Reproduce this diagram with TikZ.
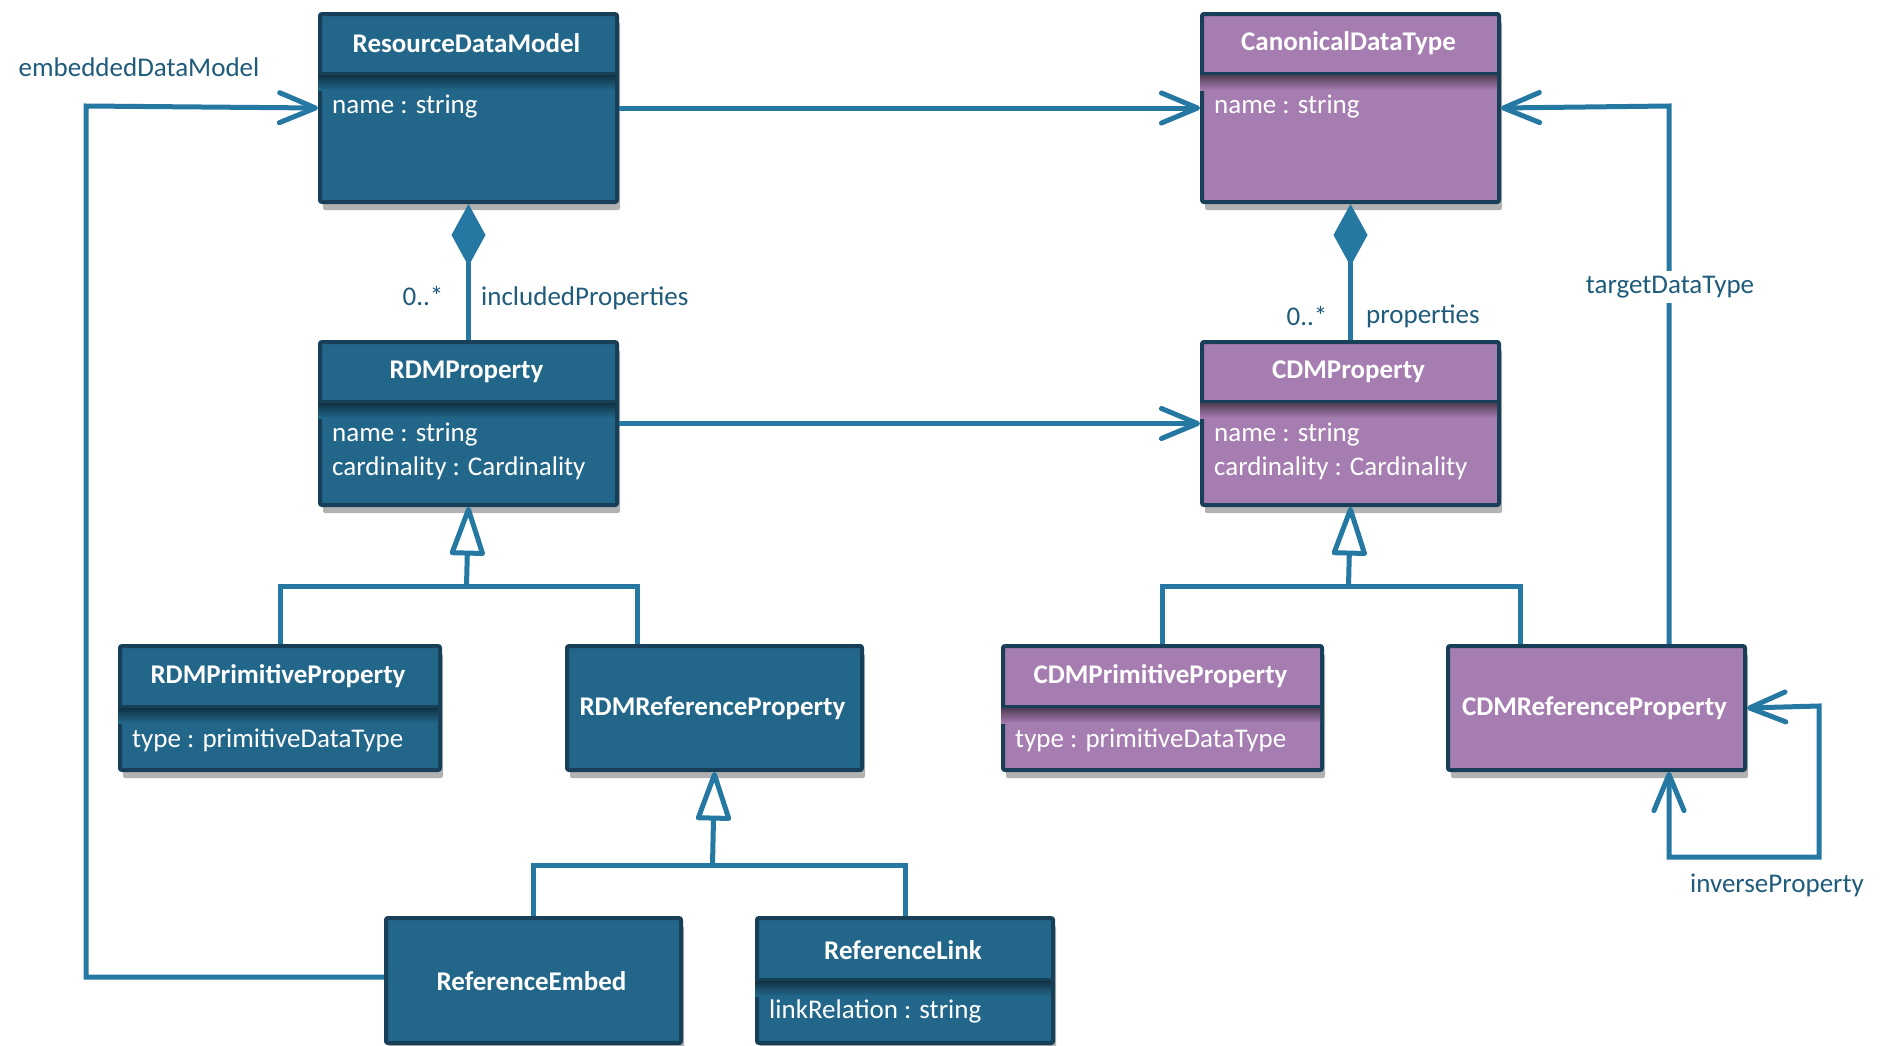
\documentclass[tikz,border=0pt]{standalone}
\usepackage{fontspec}
\setmainfont{Carlito}
\usetikzlibrary{arrows.meta,shadows}
\definecolor{boxblue}{HTML}{22678A}
\definecolor{boxpurple}{HTML}{A67DB0}
\definecolor{boxborder}{HTML}{173F57}
\definecolor{conncol}{HTML}{2478A2}
\definecolor{labelcol}{HTML}{1F5B7B}
\tikzset{
  umlbox/.style={draw=boxborder, line width=4pt, rounded corners=2pt, inner sep=0pt, anchor=north west,
    drop shadow={shadow xshift=3pt, shadow yshift=-8pt, opacity=0.3, fill=black}},
  bluebox/.style={umlbox, fill=boxblue},
  purplebox/.style={umlbox, fill=boxpurple},
  titletext/.style={text=white, font=\fontsize{27}{32}\selectfont\bfseries, inner sep=0pt},
  attrtext/.style={text=white, font=\fontsize{27}{32}\selectfont, inner sep=0pt, anchor=west},
  lbl/.style={text=labelcol, font=\fontsize{27}{32}\selectfont, inner sep=0pt},
  divider/.style={draw=boxborder, line width=3pt},
  conn/.style={draw=conncol, line width=5pt},
  openarr/.style={-{Straight Barb[length=36pt,width=30pt,line width=5pt,round]}},
  bothopen/.style={{Straight Barb[length=36pt,width=30pt,line width=5pt,round]}-{Straight Barb[length=36pt,width=30pt,line width=5pt,round]}},
  comp/.style={{Diamond[length=62pt,width=34pt,line width=1pt]}-},
  gen/.style={-{Triangle[length=54pt,width=36pt,fill=white,line width=5pt,round]}},
}
\begin{document}
\begin{tikzpicture}[x=1pt,y=-1pt]
\useasboundingbox (0,0) rectangle (1890,1045);
\clip (0,0) rectangle (1890,1045);
\fill[white] (0,0) rectangle (1890,1045);

% ---------- boxes ----------
\node[bluebox, minimum width=297pt, minimum height=188pt] (rdm) at (318,12) {};
\node[purplebox, minimum width=297pt, minimum height=188pt] (cdt) at (1200,12) {};
\node[bluebox, minimum width=297pt, minimum height=163pt] (rdmp) at (318,340) {};
\node[purplebox, minimum width=297pt, minimum height=163pt] (cdmp) at (1200,340) {};
\node[bluebox, minimum width=320pt, minimum height=124pt] (rdmprim) at (118,644) {};
\node[bluebox, minimum width=295pt, minimum height=124pt] (rdmref) at (565,644) {};
\node[purplebox, minimum width=319pt, minimum height=124pt] (cdmprim) at (1001,644) {};
\node[purplebox, minimum width=297pt, minimum height=124pt] (cdmref) at (1446,644) {};
\node[bluebox, minimum width=295pt, minimum height=125pt] (refemb) at (384,916) {};
\node[bluebox, minimum width=296pt, minimum height=125pt] (reflink) at (755,916) {};

% header shading and dividers
\foreach \xa/\xb/\yy/\col in {316/617/73/boxblue, 1198/1499/73/boxpurple, 316/617/401/boxblue, 1198/1499/401/boxpurple, 116/440/706/boxblue, 999/1322/706/boxpurple, 753/1053/979/boxblue}{
  \shade[top color=black!55!\col, bottom color=\col] (\xa+2,\yy+1) rectangle (\xb-2,\yy+17);
  \draw[divider] (\xa+2,\yy) -- (\xb-2,\yy);
}

% ---------- texts ----------
\node[titletext] (rdmT) at (466.5,43) {ResourceDataModel};
\node[attrtext] (rdmA) at (332,107) {name : string};
\node[titletext] (cdtT) at (1348.5,43) {CanonicalDataType};
\node[attrtext] (cdtA) at (1214,107) {name : string};
\node[titletext] (rdmpT) at (466.5,372) {RDMProperty};
\node[attrtext] (rdmpA) at (332,435) {name : string};
\node[attrtext] (rdmpB) at (332,468) {cardinality : Cardinality};
\node[titletext] (cdmpT) at (1348.5,372) {CDMProperty};
\node[attrtext] (cdmpA) at (1214,435) {name : string};
\node[attrtext] (cdmpB) at (1214,468) {cardinality : Cardinality};
\node[titletext] (rdmprimT) at (278,676) {RDMPrimitiveProperty};
\node[attrtext] (rdmprimA) at (132,740) {type : primitiveDataType};
\node[titletext] (rdmrefT) at (712.5,708) {RDMReferenceProperty};
\node[titletext] (cdmprimT) at (1160.5,676) {CDMPrimitiveProperty};
\node[attrtext] (cdmprimA) at (1015,740) {type : primitiveDataType};
\node[titletext] (cdmrefT) at (1594.5,708) {CDMReferenceProperty};
\node[titletext] (refembT) at (531.5,981) {ReferenceEmbed};
\node[titletext] (reflinkT) at (903,950) {ReferenceLink};
\node[attrtext] (reflinkA) at (769,1011) {linkRelation : string};

% ---------- connectors ----------
% associations
\draw[conn,openarr] (rdm.east) -- (cdt.east -| cdt.west);
\draw[conn,openarr] (rdmp.east) -- (cdmp.east -| cdmp.west);

% compositions
\draw[conn,comp,fill=conncol] (rdm.south) -- (rdmp.north);
\draw[conn,comp,fill=conncol] (cdt.south) -- (cdmp.north);
\node[lbl] (l1) at (423,296) {0..*};
\node[lbl, anchor=west] (l2) at (481,298) {includedProperties};
\node[lbl] (l3) at (1307,316) {0..*};
\node[lbl, anchor=west] (l4) at (1366,316) {properties};

% generalization RDMProperty
\coordinate (b1) at (466.5,586);
\draw[conn] (rdmprim.north) |- (b1) -| (637,0 |- rdmref.north);
\draw[conn,gen] (b1) -- (rdmp.south);
% generalization CDMProperty
\coordinate (b2) at (1348.5,586);
\draw[conn] (cdmprim.north) |- (b2) -| (1520,0 |- cdmref.north);
\draw[conn,gen] (b2) -- (cdmp.south);
% generalization RDMReferenceProperty
\coordinate (b3) at (712.5,865);
\draw[conn] (refemb.north) |- (b3) -| (reflink.north);
\draw[conn,gen] (b3) -- (rdmref.south);

% embeddedDataModel
\coordinate (e1) at (86,977);
\coordinate (e2) at (86,106);
\draw[conn,openarr] (refemb.west |- e1) -- (e1) -- (e2) -- (rdm.west);
\node[lbl] (l5) at (139,67) {embeddedDataModel};

% targetDataType
\coordinate (t1) at (1669,106);
\draw[conn,openarr] (t1 |- cdmref.north) -- (t1) -- (cdt.east);
\node[lbl, fill=white, inner sep=5pt] (l6) at (1670,287) {targetDataType};

% inverseProperty
\coordinate (i1) at (1669,857);
\coordinate (i2) at (1819,857);
\coordinate (i3) at (1819,706);
\draw[conn,bothopen] (i1 |- cdmref.south) -- (i1) -- (i2) -- (i3) -- (cdmref.east);
\node[lbl] (l7) at (1777,885) {inverseProperty};
\end{tikzpicture}
\end{document}
